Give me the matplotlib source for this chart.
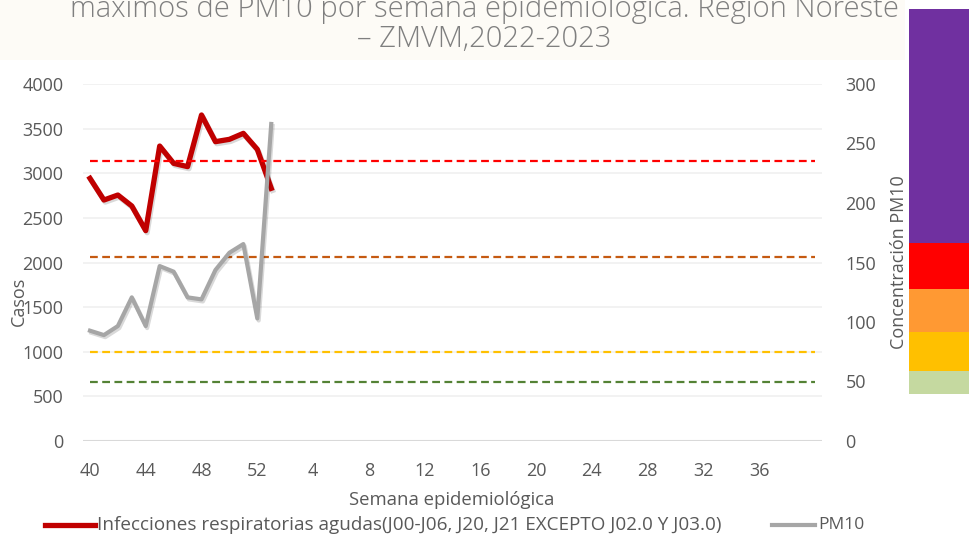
import matplotlib
matplotlib.use("Agg")
import matplotlib.pyplot as plt
import matplotlib.patheffects as pe
from matplotlib.patches import Rectangle

# Semanas epidemiológicas: 40-52 de 2022 y 1-40 de 2023
semanas = list(range(40, 53)) + list(range(1, 41))

# Infecciones respiratorias agudas (casos), semanas 40/2022 a 1/2023
ira = [2943, 2700, 2756, 2633, 2357, 3305, 3111, 3074, 3653, 3354, 3380, 3447, 3268, 2831]

# PM10 máximo semanal (µg/m3)
pm10 = [92.7, 89, 96.6, 120.7, 96.6, 147, 142.3, 120.7, 119, 143.7, 158.2, 165.5, 103, 266.4]

# Umbrales PM10 (eje derecho)
umbrales = [235, 155, 75, 50]
colores_umbral = ["#FF0000", "#C55A11", "#FFC000", "#548235"]

# Barra de color (decorativa, a la derecha)
barra_colores = ["#7030A0", "#FF0000", "#FF9933", "#FFC000", "#C5D9A0"]
barra_limites = [9, 243, 289, 332, 371, 394]  # px desde arriba

W, H = 969, 539
fig = plt.figure(figsize=(W / 100, H / 100), dpi=100)
plt.rcParams["font.family"] = ["Open Sans", "DejaVu Sans"]

# marca de agua tenue detrás del título
fig.patches.append(Rectangle((0, 1 - 60 / H), 905 / W, 60 / H, transform=fig.transFigure,
                             facecolor="#FDFBF6", edgecolor="none", zorder=0))

ax = fig.add_axes([83 / W, 1 - 441 / H, 739 / W, 357 / H])
ax2 = ax.twinx()

x = list(range(len(semanas)))
gris = "#595959"

shadow = [pe.SimpleLineShadow(offset=(1, -1.5), shadow_color="#000000", alpha=0.15), pe.Normal()]

ax.plot(x[:len(ira)], ira, color="#C00000", lw=3.8, path_effects=shadow, zorder=5)
for v, c in zip(umbrales, colores_umbral):
    ax2.plot(x, [v] * len(x), color=c, lw=1.6, ls=(0, (3.5, 2)), zorder=3)
ax2.plot(x[:len(pm10)], pm10, color="#A6A6A6", lw=3.0, path_effects=shadow, zorder=4)

ax.set_xlim(-0.5, len(semanas) - 0.5)
ax.set_ylim(0, 4000)
ax.set_yticks(range(0, 4001, 500))
ax2.set_ylim(0, 300)
ax2.set_yticks(range(0, 301, 50))
ax.set_xticks(x[::4][:13])
ax.set_xticklabels([str(s) for s in semanas[::4][:13]])

for a in (ax, ax2):
    for s in a.spines.values():
        s.set_visible(False)
    a.tick_params(length=0, labelsize=13, colors=gris)
ax.tick_params(axis="y", pad=14)
ax2.tick_params(axis="y", pad=17)
ax.tick_params(axis="x", pad=15)

ax.set_axisbelow(True)
ax.grid(axis="y", color="#F0F0F0", lw=1.2, zorder=0)
ax.axhline(0, color="#D9D9D9", lw=2.2, zorder=1)

ax.set_ylabel("Casos", fontsize=13, color=gris)
ax.yaxis.set_label_coords(-0.074, 0.39)
ax2.set_ylabel("Concentración PM10", fontsize=13, color=gris)
ax2.yaxis.set_label_coords(1.092, 0.5)

fig.text(452 / W, 1 - 500 / H, "Semana epidemiológica", ha="center", va="center", fontsize=13.3, color=gris)

# leyenda manual
fig.lines.append(plt.Line2D([45 / W, 95 / W], [1 - 525 / H] * 2, transform=fig.transFigure, color="#C00000", lw=3.8))
fig.text(97 / W, 1 - 525 / H, "Infecciones respiratorias agudas(J00-J06, J20, J21 EXCEPTO J02.0 Y J03.0)",
         ha="left", va="center", fontsize=13.6, color=gris)
fig.lines.append(plt.Line2D([772 / W, 815 / W], [1 - 525 / H] * 2, transform=fig.transFigure, color="#A6A6A6", lw=3.0))
fig.text(818 / W, 1 - 525 / H, "PM10", ha="left", va="center", fontsize=12.5, color=gris)

# título (recortado en la parte superior)
fig.text(0.5, 1 - 17 / H, "máximos de PM10 por semana epidemiológica. Región Noreste",
         ha="center", va="baseline", fontsize=21, color="#7F7F7F", fontweight="light")
fig.text(0.5, 1 - 47 / H, "– ZMVM,2022-2023",
         ha="center", va="baseline", fontsize=21, color="#7F7F7F", fontweight="light")

# barra de colores a la derecha
for c, y0, y1 in zip(barra_colores, barra_limites[:-1], barra_limites[1:]):
    fig.patches.append(Rectangle((909 / W, 1 - y1 / H), 60 / W, (y1 - y0) / H,
                                 transform=fig.transFigure, facecolor=c, edgecolor="none"))

fig.savefig("out.png", dpi=100)
